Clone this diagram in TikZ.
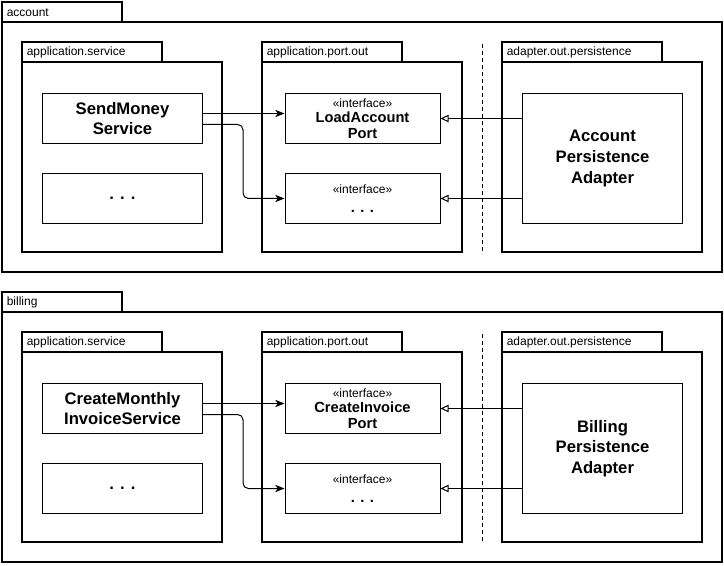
\documentclass[tikz,border=0pt]{standalone}
\usepackage{fontspec}
\setmainfont{Liberation Sans}
\usetikzlibrary{arrows.meta}
\newcommand\stereofont{\fontsize{9}{11}\selectfont}
\newcommand\portfont{\bfseries\fontsize{11}{12.75}\selectfont}
\tikzset{
  pkgframe/.style={draw, line width=1.5pt},
  tablabel/.style={anchor=west, inner sep=0pt, font=\fontsize{9}{10}\selectfont},
  umlbox/.style={draw, line width=0.75pt, anchor=north west, align=center, inner sep=0pt},
  svcbox/.style={umlbox, minimum width=120pt, minimum height=37.5pt, font=\bfseries\fontsize{12.5}{15.5}\selectfont},
  portbox/.style={umlbox, minimum width=116.25pt, minimum height=37.5pt},
  adpbox/.style={umlbox, minimum width=120pt, minimum height=97.5pt, font=\bfseries\fontsize{12.5}{15.5}\selectfont},
  callarrow/.style={line width=0.75pt, -{Stealth[length=7pt,width=5.5pt,inset=2pt]}},
  implarrow/.style={line width=0.75pt, -{Triangle[open,length=6pt,width=5.5pt,fill=white]}},
  sepline/.style={line width=0.75pt, dash pattern=on 3pt off 2.25pt},
}
\begin{document}
\begin{tikzpicture}[x=0.75pt,y=-0.75pt]
  \path[use as bounding box] (0,0) rectangle (724,566);
  % ===== account =====
  \draw[pkgframe] (2,2) rectangle (122,22);
  \draw[pkgframe] (2,22) rectangle (722,272);
  \node[tablabel] (aname) at (6.5,12.5) {account};
  \draw[pkgframe] (22,42) rectangle (162,62);
  \draw[pkgframe] (22,62) rectangle (222,252);
  \node[tablabel] (asvclbl) at (26.5,52.5) {application.service};
  \node[svcbox] (asvc) at (42,93) {SendMoney\\Service};
  \node[svcbox] (asvcb) at (42,173) {. . .};
  \draw[pkgframe] (262,42) rectangle (402,62);
  \draw[pkgframe] (262,62) rectangle (462,252);
  \node[tablabel] (aportlbl) at (266.5,52.5) {application.port.out};
  \node[portbox] (aport) at (284.5,93) {{\stereofont «interface»}\\[-0.5pt]{\portfont LoadAccount}\\{\portfont Port}};
  \node[portbox] (aportb) at (284.5,173) {{\stereofont «interface»}\\[2pt]{\portfont . . .}};
  \coordinate (asepa) at (482,44);
  \coordinate (asepb) at (482,252);
  \draw[sepline] (asepa) -- (asepb);
  \draw[pkgframe] (502,42) rectangle (662,62);
  \draw[pkgframe] (502,62) rectangle (702,252);
  \node[tablabel] (aadplbl) at (506.5,52.5) {adapter.out.persistence};
  \node[adpbox] (aadp) at (522,93) {Account\\Persistence\\Adapter};
  \draw[callarrow] ([yshift=3.75pt]asvc.east) -- ([yshift=3.75pt]aport.west);
  \draw[callarrow, rounded corners=4pt] ([yshift=-4.5pt]asvc.east) -- ++(40,0) |- (aportb.west);
  \draw[implarrow] (aport.east -| aadp.west) -- (aport.east);
  \draw[implarrow] (aportb.east -| aadp.west) -- (aportb.east);
  % ===== billing =====
  \draw[pkgframe] (2,292) rectangle (122,312);
  \draw[pkgframe] (2,312) rectangle (722,562);
  \node[tablabel] (bname) at (6.5,302.5) {billing};
  \draw[pkgframe] (22,332) rectangle (162,352);
  \draw[pkgframe] (22,352) rectangle (222,542);
  \node[tablabel] (bsvclbl) at (26.5,342.5) {application.service};
  \node[svcbox] (bsvc) at (42,383) {CreateMonthly\\InvoiceService};
  \node[svcbox] (bsvcb) at (42,463) {. . .};
  \draw[pkgframe] (262,332) rectangle (402,352);
  \draw[pkgframe] (262,352) rectangle (462,542);
  \node[tablabel] (bportlbl) at (266.5,342.5) {application.port.out};
  \node[portbox] (bport) at (284.5,383) {{\stereofont «interface»}\\[-0.5pt]{\portfont CreateInvoice}\\{\portfont Port}};
  \node[portbox] (bportb) at (284.5,463) {{\stereofont «interface»}\\[2pt]{\portfont . . .}};
  \coordinate (bsepa) at (482,334);
  \coordinate (bsepb) at (482,542);
  \draw[sepline] (bsepa) -- (bsepb);
  \draw[pkgframe] (502,332) rectangle (662,352);
  \draw[pkgframe] (502,352) rectangle (702,542);
  \node[tablabel] (badplbl) at (506.5,342.5) {adapter.out.persistence};
  \node[adpbox] (badp) at (522,383) {Billing\\Persistence\\Adapter};
  \draw[callarrow] ([yshift=3.75pt]bsvc.east) -- ([yshift=3.75pt]bport.west);
  \draw[callarrow, rounded corners=4pt] ([yshift=-4.5pt]bsvc.east) -- ++(40,0) |- (bportb.west);
  \draw[implarrow] (bport.east -| badp.west) -- (bport.east);
  \draw[implarrow] (bportb.east -| badp.west) -- (bportb.east);
\end{tikzpicture}
\end{document}
